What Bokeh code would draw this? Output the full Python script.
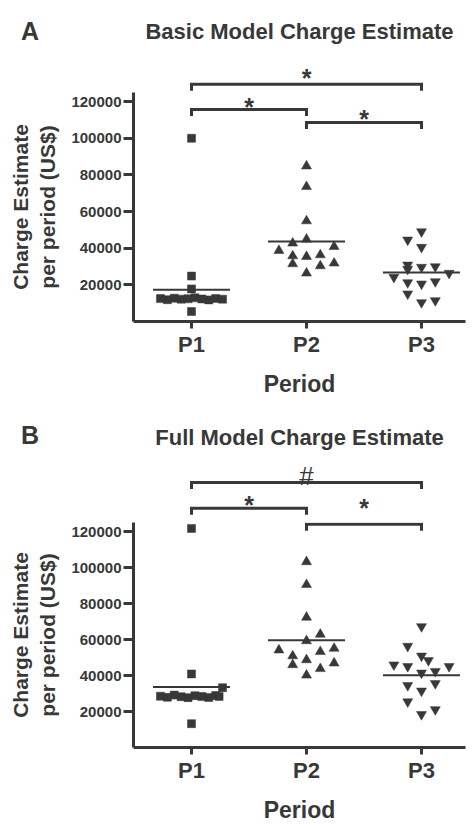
from bokeh.plotting import figure
from bokeh.layouts import column
from bokeh.models import FixedTicker, BasicTickFormatter
from bokeh.core.properties import value
from bokeh.embed import file_html
from bokeh.resources import INLINE

# ---------------- data ----------------
periods = ["P1", "P2", "P3"]
ytick_values = [20000, 40000, 60000, 80000, 100000, 120000]

# Panel A : Basic Model Charge Estimate
a_p1 = [100000, 24800, 17800, 5450, 12500, 11900, 12700, 12200, 12400, 12900, 12300, 11800, 12600, 12200]
a_p1_col = [0, 0, 0, 0, -2.25, -1.75, -1.25, -0.75, -0.25, 0.25, 0.75, 1.25, 1.75, 2.25]
a_p2 = [84850, 73570, 54880, 44900, 42720, 40870, 38690, 35800, 35420, 36350, 31440, 31820, 30350, 26370]
a_p2_col = [0, 0, 0, 0, -1, 2, -2, -1, 0, 1, -1, 2, 1, 0]
a_p3 = [49050, 44520, 40540, 30900, 29640, 29970, 28550, 26370, 24190, 21250, 20540, 21800, 15100, 10350, 11440]
a_p3_col = [0, -1, 0, -1, 0, 1, -1, 2, -2, -1, 0, 1, -1, 0, 1]
a_means = [17270, 43600, 26700]
a_bracket_from = [1, 1, 2]
a_bracket_to = [3, 2, 3]
a_bracket_level = [129500, 115750, 108660]
a_bracket_mark = ["*", "*", "*"]

# Panel B : Full Model Charge Estimate
b_p1 = [121700, 40870, 33240, 13240, 28500, 27900, 29100, 28200, 27700, 28800, 28300, 27800, 28900, 28400]
b_p1_col = [0, 0, 2.25, 0, -2.25, -1.75, -1.25, -0.75, -0.25, 0.25, 0.75, 1.25, 1.75, 2.0]
b_p2 = [103160, 90460, 72300, 62840, 59240, 54120, 55040, 50860, 53240, 45940, 48670, 46870, 43760, 40160]
b_p2_col = [0, 0, 0, 1, 0, -2, 2, -1, 1, -1, 0, 2, 1, 0]
b_p3 = [67200, 56300, 50860, 48340, 45940, 45070, 45070, 41420, 42330, 34500, 35590, 31440, 25450, 18370, 21090]
b_p3_col = [0, -1, 0, 0.5, -2, -1, 2, 0, 1, -1, 1, 0, -1, 0, 1]
b_means = [33620, 59560, 40160]
b_bracket_from = [1, 1, 2]
b_bracket_to = [3, 2, 3]
b_bracket_level = [146750, 132800, 124000]
b_bracket_mark = ["#", "*", "*"]

# ---------------- style ----------------
FONT = "Liberation Sans"
INK = "#383838"
COL_STEP = 0.12
MEAN_HALF = 0.335
DROP = 3600
W = 475
BORDER_L, BORDER_R = 133, 10
PX_PER_X = 115.0
X_START = 1 - (191 - BORDER_L) / PX_PER_X
X_END = X_START + (W - BORDER_L - BORDER_R) / PX_PER_X
Y_TOP = 125000
MARK_SIZE = {"*": 25, "#": 26}
MARK_STYLE = {"*": "bold", "#": "normal"}
MARK_SHIFT = {"*": 0.24, "#": 0.0}  # glyph centre above text middle, in em
A_MARK_GAP = [11.8, 8.6, 9.6]     # px between bracket line and mark centre
B_MARK_GAP = [6.7, 9.0, 22.0]


def brackets(p, b_from, b_to, b_level):
    for f, t, lv in zip(b_from, b_to, b_level):
        p.line([f, f, t, t], [lv - DROP, lv, lv, lv - DROP], line_color=INK, line_width=3,
               line_join="miter")


def marks(p, b_from, b_to, b_level, b_mark, gaps, scale, upper):
    for f, t, lv, mk, g in zip(b_from, b_to, b_level, b_mark, gaps):
        centre_val = lv + g / scale
        if (centre_val >= Y_TOP) != upper:
            continue
        p.text([(f + t) / 2], [lv], text=[mk], text_font=value(FONT),
               text_font_size=f"{MARK_SIZE[mk]}px", text_font_style=MARK_STYLE[mk],
               text_color=INK, text_align="center", text_baseline="middle",
               y_offset=-g + MARK_SHIFT[mk] * MARK_SIZE[mk])


def header(letter, title, b_from, b_to, b_level, b_mark, gaps, height, frame_px,
           letter_px, title_px):
    scale = frame_px / Y_TOP          # pixels per unit, same as the panel below
    top = Y_TOP + height / scale
    x0 = X_START - BORDER_L / PX_PER_X
    h = figure(width=W, height=height, output_backend="svg", toolbar_location=None,
               title=None, x_axis_location=None, y_axis_location=None,
               x_range=(x0, X_END + BORDER_R / PX_PER_X), y_range=(Y_TOP, top),
               min_border_left=0, min_border_right=0, min_border_top=0, min_border_bottom=0,
               frame_align=False)
    h.grid.visible = False
    h.outline_line_color = None
    brackets(h, b_from, b_to, b_level)
    marks(h, b_from, b_to, b_level, b_mark, gaps, scale, upper=True)
    h.text([x0 + 29.5 / PX_PER_X], [top - letter_px / scale], text=[letter], text_font=value(FONT),
           text_font_style="bold", text_font_size="25px", text_color=INK,
           text_align="center", text_baseline="middle")
    h.text([(X_START + X_END) / 2], [top - title_px / scale], text=[title], text_font=value(FONT),
           text_font_style="bold", text_font_size="22px", text_color=INK,
           text_align="center", text_baseline="middle")
    return h


def panel(groups, cols, means, b_from, b_to, b_level, b_mark, gaps, height, border_bottom,
          frame_px):
    p = figure(width=W, height=height, output_backend="svg", toolbar_location=None, title=None,
               x_range=(X_START, X_END), y_range=(0, Y_TOP),
               min_border_left=BORDER_L, min_border_right=BORDER_R,
               min_border_top=0, min_border_bottom=border_bottom, frame_align=False)
    p.grid.visible = False
    p.outline_line_color = None

    markers = ["square", "triangle", "inverted_triangle"]
    sizes = [8, 10, 10]
    for i, (vals, cc) in enumerate(zip(groups, cols)):
        xs = [i + 1 + c * COL_STEP for c in cc]
        p.scatter(xs, vals, marker=markers[i], size=sizes[i], fill_color=INK,
                  line_color=INK, line_width=0.5)
        p.segment(x0=[i + 1 - MEAN_HALF], x1=[i + 1 + MEAN_HALF], y0=[means[i]], y1=[means[i]],
                  line_color=INK, line_width=2)
    brackets(p, b_from, b_to, b_level)
    marks(p, b_from, b_to, b_level, b_mark, gaps, frame_px / Y_TOP, upper=False)

    xa = p.xaxis[0]
    xa.ticker = FixedTicker(ticks=[1, 2, 3])
    xa.major_label_overrides = {1: periods[0], 2: periods[1], 3: periods[2]}
    xa.axis_label = "Period"
    ya = p.yaxis[0]
    ya.ticker = FixedTicker(ticks=ytick_values)
    ya.formatter = BasicTickFormatter(use_scientific=False)
    ya.axis_label = "Charge Estimate\nper period (US$)"

    for ax in (xa, ya):
        ax.axis_line_color = INK
        ax.axis_line_width = 3
        ax.major_tick_line_color = INK
        ax.major_tick_line_width = 3
        ax.major_tick_in = 0
        ax.minor_tick_line_color = None
        ax.major_label_text_font = FONT
        ax.major_label_text_font_style = "bold"
        ax.major_label_text_color = INK
        ax.axis_label_text_font = FONT
        ax.axis_label_text_font_style = "bold"
        ax.axis_label_text_color = INK
    xa.major_tick_out = 7
    xa.major_label_text_font_size = "22px"
    xa.major_label_standoff = 3
    xa.axis_label_text_font_size = "23px"
    xa.axis_label_standoff = 11
    ya.major_tick_out = 10
    ya.major_label_text_font_size = "15px"
    ya.major_label_standoff = 2
    ya.axis_label_text_font_size = "21px"
    ya.axis_label_standoff = 9
    return p


hA = header("A", "Basic Model Charge Estimate", a_bracket_from, a_bracket_to, a_bracket_level,
            a_bracket_mark, A_MARK_GAP, height=92, frame_px=229, letter_px=30, title_px=31)
pA = panel([a_p1, a_p2, a_p3], [a_p1_col, a_p2_col, a_p3_col], a_means,
           a_bracket_from, a_bracket_to, a_bracket_level, a_bracket_mark, A_MARK_GAP,
           height=320, border_bottom=91, frame_px=229)
hB = header("B", "Full Model Charge Estimate", b_bracket_from, b_bracket_to, b_bracket_level,
            b_bracket_mark, B_MARK_GAP, height=110, frame_px=230, letter_px=22, title_px=25)
pB = panel([b_p1, b_p2, b_p3], [b_p1_col, b_p2_col, b_p3_col], b_means,
           b_bracket_from, b_bracket_to, b_bracket_level, b_bracket_mark, B_MARK_GAP,
           height=303, border_bottom=73, frame_px=230)

layout = column(hA, pA, hB, pB)
open("out.html", "w").write(file_html(layout, INLINE))
